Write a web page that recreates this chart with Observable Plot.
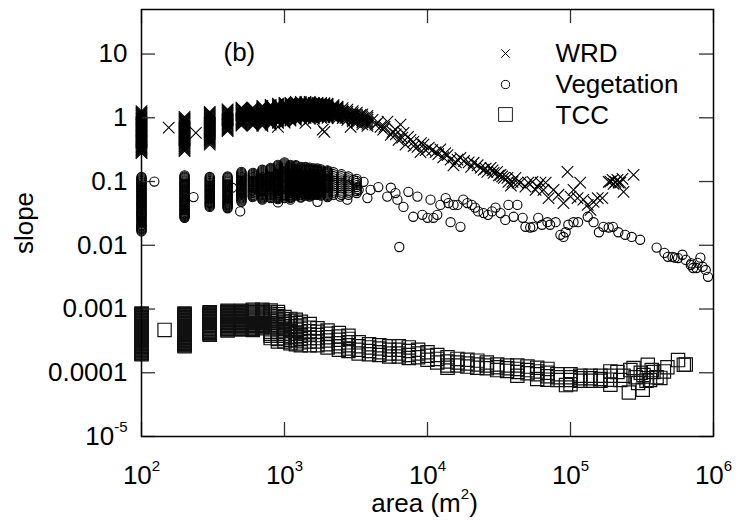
<!DOCTYPE html>
<html><head><meta charset="utf-8">
<script src="https://cdn.jsdelivr.net/npm/d3@7"></script>
<script src="https://cdn.jsdelivr.net/npm/@observablehq/plot@0.6"></script>
<style>body{margin:0;background:#fff}#chart{width:737px;height:522px}</style>
</head><body><div id="chart"></div>
<script>
// ---------- tick values and labels ----------
const xTicks = [1e2, 1e3, 1e4, 1e5, 1e6];
const xTickLabels = ["10^2", "10^3", "10^4", "10^5", "10^6"];
const yTicks = [10, 1, 0.1, 0.01, 0.001, 0.0001, 1e-5];
const yTickLabels = ["10", "1", "0.1", "0.01", "0.001", "0.0001", "10^-5"];
const xLabel = "area (m^2)";
const yLabel = "slope";
const panelLabel = "(b)";
const legendLabels = ["WRD", "Vegetation", "TCC"];

// ---------- WRD (x markers) ----------
const wrdColArea = [100,200,300,400,500,600,700,800,900,1000,1100,1200,1300,1400,1500,1600,1700,1800,1900,2000,2200,2350,2550,2750,3000,3200,3500,3800];
const wrdColSlope = [
  [1.27,1.22,1.18,1.14,1.1,1.06,1.02,0.98,0.95,0.92,0.885,0.85,0.82,0.79,0.765,0.74,0.71,0.685,0.66,0.64,0.615,0.59,0.57,0.55,0.53,0.51,0.495,0.475,0.46,0.445,0.43,0.415,0.40,0.385,0.37,0.355,0.345,0.33,0.32,0.31,0.30,0.29,0.28],
  [1.03,0.99,0.96,0.925,0.89,0.86,0.83,0.80,0.77,0.745,0.72,0.695,0.67,0.645,0.62,0.60,0.58,0.56,0.54,0.52,0.50,0.48,0.465,0.45,0.43,0.415,0.40,0.39,0.375,0.36,0.35,0.335,0.325,0.31,0.30],
  [1.24,1.19,1.15,1.11,1.07,1.03,1.0,0.965,0.93,0.9,0.865,0.83,0.80,0.77,0.745,0.72,0.695,0.67,0.645,0.62,0.60,0.58,0.56,0.54,0.52,0.50,0.485,0.465,0.45,0.435,0.42,0.40,0.38],
  [1.36,1.31,1.27,1.22,1.18,1.14,1.1,1.06,1.02,0.98,0.95,0.92,0.885,0.85,0.82,0.79,0.765,0.74,0.71,0.685,0.66,0.64,0.62],
  [1.44,1.39,1.34,1.29,1.25,1.2,1.16,1.12,1.08,1.04,1.0,0.965,0.935,0.9,0.87,0.84,0.81,0.78,0.755],
  [1.44,1.39,1.34,1.29,1.25,1.2,1.16,1.12,1.08,1.04,1.0,0.965,0.935,0.9,0.87,0.84,0.81,0.78,0.755],
  [1.54,1.48,1.43,1.38,1.33,1.28,1.24,1.19,1.15,1.11,1.07,1.03,1.0,0.965,0.93,0.9,0.865,0.835,0.805,0.775,0.75],
  [1.6,1.54,1.49,1.44,1.39,1.34,1.29,1.25,1.2,1.16,1.12,1.08,1.04,1.0,0.97,0.935,0.9,0.87,0.84,0.81,0.78],
  [1.66,1.6,1.55,1.49,1.44,1.39,1.34,1.29,1.25,1.2,1.16,1.12,1.08,1.04,1.0,0.965,0.93,0.9,0.865,0.835,0.72],
  [1.72,1.66,1.6,1.55,1.49,1.44,1.39,1.34,1.29,1.25,1.2,1.16,1.12,1.08,1.04,1.0,0.97,0.935,0.9,0.87,0.84],
  [1.72,1.66,1.6,1.55,1.49,1.44,1.39,1.34,1.29,1.25,1.2,1.16,1.12,1.08,1.04,1.0,0.97,0.935,0.9],
  [1.78,1.72,1.66,1.6,1.54,1.49,1.43,1.38,1.33,1.29,1.24,1.2,1.15,1.11,1.07,1.04,1.0,0.965,0.93],
  [1.78,1.72,1.66,1.6,1.54,1.49,1.43,1.38,1.33,1.29,1.24,1.2,1.15,1.11,1.07,1.04,1.0],
  [1.78,1.72,1.66,1.6,1.54,1.49,1.43,1.38,1.33,1.29,1.24,1.2,1.15,1.11,1.07,1.04,1.0,0.83],
  [1.78,1.72,1.66,1.6,1.54,1.49,1.43,1.38,1.33,1.29,1.24,1.2,1.15,1.11,1.07,1.04,1.0,0.965],
  [1.72,1.66,1.6,1.55,1.49,1.44,1.39,1.34,1.29,1.25,1.2,1.16,1.12,1.08,1.04,1.0,0.97],
  [1.72,1.66,1.6,1.55,1.49,1.44,1.39,1.34,1.29,1.25,1.2,1.16,1.12,1.08,1.04],
  [1.72,1.66,1.6,1.55,1.49,1.44,1.39,1.34,1.29,1.25,1.2,1.16,1.12,1.08,1.04,1.0],
  [1.69,1.63,1.57,1.52,1.46,1.41,1.36,1.31,1.27,1.22,1.18,1.14,1.1,1.06,1.02,0.6],
  [1.66,1.6,1.55,1.49,1.44,1.39,1.34,1.29,1.25,1.2,1.16,1.12,1.08,1.04,1.0],
  [1.58,1.52,1.47,1.42,1.37,1.32,1.27,1.23,1.18,1.14,1.1,1.06,1.02],
  [1.49,1.44,1.39,1.34,1.29,1.25,1.2,1.16,1.12,1.08,1.04,0.98],
  [1.42,1.32,1.23,1.14,1.06,0.99],
  [1.34,1.25,1.16,1.08,1.0,0.93],
  [1.27,1.18,1.1,1.02,0.95,0.88],
  [1.2,1.12,1.04,0.97,0.9,0.84],
  [1.13,1.05,0.98,0.91,0.85,0.79],
  [1.07,1.0,0.93,0.865,0.8,0.75]
];
const wrdPoints = [
  [155,0.70],[240,0.58],[1850,0.65],[2100,1.34],[2270,1.11],[2540,1.24],[2670,1.0],[2900,0.72],[2990,1.07],[3000,0.93],
  [3140,0.87],[3400,1.11],[3570,1.0],[3700,0.87],[4130,0.93],[4320,0.78],[4500,0.85],[4690,0.72],[4900,0.65],[5000,0.72],
  [5250,0.87],[5540,0.54],[5690,0.60],[5970,0.65],[6000,0.55],[6270,0.45],[6470,0.78],[6660,0.49],[6800,0.58],[7020,0.38],
  [7300,0.50],[7600,0.45],[7950,0.42],[8000,0.36],[8510,0.35],[8930,0.29],[9000,0.40],[9370,0.38],[9700,0.31],[10200,0.34],
  [10800,0.31],[11400,0.29],[11900,0.27],[12300,0.32],[12900,0.24],[13300,0.28],[13800,0.26],[14500,0.22],[15200,0.18],[15800,0.20],
  [16200,0.22],[17000,0.235],[18000,0.21],[19400,0.20],[20200,0.17],[21000,0.197],[22400,0.18],[23500,0.164],[24700,0.153],[25500,0.16],
  [26200,0.142],[27600,0.164],[28500,0.15],[29000,0.137],[30700,0.142],[31500,0.125],[32400,0.127],[33300,0.12],[34200,0.114],[36200,0.114],
  [36800,0.099],[38300,0.086],[39300,0.099],[41200,0.114],[42600,0.096],[44700,0.096],[48400,0.083],[50600,0.096],[54200,0.099],[57000,0.074],
  [58800,0.083],[61700,0.096],[64700,0.074],[67000,0.096],[70200,0.055],[76100,0.074],[82400,0.062],[89300,0.046],[95300,0.142],[100000,0.058],
  [105000,0.074],[112000,0.055],[117000,0.096],[123000,0.052],[132000,0.043],[138000,0.036],[145000,0.048],[155000,0.055],[167000,0.055],[185000,0.099],
  [190000,0.10],[197000,0.106],[200000,0.092],[206000,0.099],[213000,0.106],[217000,0.096],[223000,0.096],[231000,0.11],[235000,0.069],[276000,0.127]
];

// ---------- Vegetation (circles) ----------
const vegColArea = [100,200,300,400,500,600,700,800,900,1000,1100,1200,1300,1400,1500,1600,1700,1800,2000,2200,2500,2800,3200];
const vegColSlope = [
  [0.118,0.114,0.11,0.106,0.102,0.098,0.095,0.091,0.088,0.085,0.082,0.079,0.076,0.073,0.071,0.068,0.066,0.063,0.061,0.059,0.057,0.055,0.053,0.051,0.049,0.0475,0.046,0.0445,0.043,0.0415,0.04,0.0385,0.037,0.0355,0.034,0.033,0.032,0.031,0.03,0.029,0.028,0.027,0.026,0.025,0.024,0.023,0.022,0.021,0.0205,0.0198,0.019,0.0183,0.0177,0.0171,0.0165],
  [0.125,0.12,0.116,0.112,0.108,0.104,0.1,0.096,0.093,0.09,0.087,0.084,0.081,0.078,0.075,0.0725,0.07,0.0675,0.065,0.0625,0.06,0.058,0.056,0.054,0.052,0.05,0.048,0.0465,0.045,0.0435,0.042,0.0405,0.039,0.0375,0.036,0.035,0.0335,0.032,0.031,0.03,0.029,0.028,0.027],
  [0.118,0.114,0.11,0.106,0.102,0.098,0.095,0.091,0.088,0.085,0.082,0.079,0.076,0.073,0.071,0.068,0.066,0.063,0.061,0.059,0.057,0.055,0.053,0.051,0.049,0.0475,0.046,0.0445,0.043,0.0415,0.04],
  [0.12,0.116,0.112,0.108,0.104,0.1,0.097,0.093,0.09,0.087,0.084,0.081,0.078,0.075,0.072,0.0695,0.067,0.0645,0.062,0.06,0.058,0.056,0.054,0.052,0.05,0.0485,0.047,0.0455,0.044,0.0425,0.041,0.0395,0.038],
  [0.142,0.137,0.132,0.127,0.123,0.118,0.114,0.11,0.106,0.102,0.099,0.095,0.092,0.089,0.086,0.083,0.08,0.077,0.074,0.0715,0.069,0.0665,0.064,0.062,0.06,0.058,0.056,0.054,0.052,0.05,0.048],
  [0.137,0.132,0.127,0.123,0.118,0.114,0.11,0.106,0.102,0.098,0.095,0.091,0.088,0.085,0.082,0.079,0.076,0.073,0.071,0.068,0.066,0.063,0.061,0.059,0.057],
  [0.153,0.147,0.142,0.137,0.132,0.127,0.123,0.118,0.114,0.11,0.106,0.102,0.099,0.095,0.092,0.089,0.086,0.083,0.08,0.077,0.074,0.0715,0.069,0.0665,0.064,0.062,0.06,0.058,0.056,0.054,0.052],
  [0.164,0.158,0.153,0.147,0.142,0.137,0.132,0.127,0.123,0.118,0.114,0.11,0.106,0.102,0.099,0.095,0.092,0.089,0.086,0.083,0.08,0.077,0.074,0.0715,0.069,0.0665,0.064,0.062,0.06,0.0575,0.055],
  [0.183,0.176,0.17,0.164,0.158,0.153,0.147,0.142,0.137,0.132,0.127,0.123,0.118,0.114,0.11,0.106,0.102,0.099,0.095,0.092,0.088,0.085,0.082,0.079,0.076,0.073,0.071,0.068,0.066,0.063,0.061,0.059,0.057,0.055,0.053,0.047],
  [0.2,0.193,0.186,0.179,0.173,0.167,0.161,0.155,0.15,0.144,0.139,0.134,0.129,0.125,0.12,0.116,0.112,0.108,0.104,0.1,0.097,0.093,0.09,0.087,0.084,0.081,0.078,0.075,0.072,0.0695,0.067,0.0645,0.062,0.06,0.058,0.055],
  [0.183,0.176,0.17,0.164,0.158,0.153,0.147,0.142,0.137,0.132,0.127,0.123,0.118,0.114,0.11,0.106,0.102,0.099,0.095,0.092,0.088,0.085,0.082,0.079,0.076,0.073,0.071,0.068,0.066,0.063,0.061,0.059,0.057,0.055,0.052],
  [0.18,0.174,0.167,0.161,0.155,0.15,0.144,0.139,0.134,0.129,0.125,0.12,0.116,0.112,0.108,0.104,0.1,0.097,0.093,0.09,0.087,0.084,0.081,0.078,0.075,0.072,0.07,0.0675,0.065,0.0625,0.06],
  [0.17,0.164,0.158,0.153,0.147,0.142,0.137,0.132,0.127,0.123,0.118,0.114,0.11,0.106,0.102,0.098,0.095,0.091,0.088,0.085,0.082,0.079,0.076,0.073,0.071,0.068,0.066,0.063,0.061,0.058,0.056],
  [0.17,0.164,0.158,0.153,0.147,0.142,0.137,0.132,0.127,0.123,0.118,0.114,0.11,0.106,0.102,0.098,0.095,0.091,0.088,0.085,0.082,0.079,0.076,0.073,0.071,0.068,0.066,0.063,0.06],
  [0.165,0.159,0.153,0.148,0.142,0.137,0.132,0.127,0.123,0.118,0.114,0.11,0.106,0.102,0.099,0.095,0.092,0.089,0.086,0.083,0.08,0.077,0.074,0.0715,0.069,0.0665,0.064,0.062,0.06,0.058],
  [0.16,0.154,0.149,0.144,0.139,0.134,0.129,0.124,0.12,0.116,0.112,0.108,0.104,0.1,0.097,0.093,0.09,0.087,0.084,0.081,0.078,0.075,0.072,0.0695,0.067,0.0645,0.062],
  [0.16,0.154,0.149,0.144,0.139,0.134,0.129,0.124,0.12,0.116,0.112,0.108,0.104,0.1,0.097,0.093,0.09,0.087,0.084,0.081,0.078,0.075,0.072,0.0695,0.067,0.0645,0.062,0.048],
  [0.155,0.149,0.144,0.139,0.134,0.129,0.125,0.12,0.116,0.112,0.108,0.104,0.1,0.097,0.093,0.09,0.087,0.084,0.081,0.078,0.075,0.072,0.07,0.0675,0.065,0.0625,0.06],
  [0.15,0.145,0.14,0.135,0.13,0.125,0.121,0.116,0.112,0.108,0.104,0.1,0.097,0.093,0.09,0.087,0.084,0.081,0.078,0.075,0.072,0.0695,0.067,0.0645,0.062,0.0595,0.057],
  [0.14,0.13,0.121,0.112,0.104,0.097,0.09,0.084,0.078,0.072,0.067,0.062],
  [0.13,0.121,0.112,0.104,0.097,0.09,0.084,0.078,0.072,0.067,0.062],
  [0.12,0.112,0.104,0.097,0.09,0.084,0.078,0.072,0.067,0.062],
  [0.11,0.102,0.095,0.088,0.082,0.076,0.071,0.066]
];
const vegPoints = [
  [123,0.10],[231,0.057],[430,0.08],[490,0.034],[2450,0.058],[2750,0.052],[3040,0.106],[3300,0.074],[3570,0.099],[3800,0.055],
  [4000,0.074],[4530,0.082],[5230,0.058],[5540,0.080],[5970,0.066],[6160,0.052],[6350,0.0094],[6790,0.040],[7350,0.069],[7950,0.028],
  [8500,0.058],[9200,0.030],[10000,0.027],[10500,0.052],[11000,0.027],[11700,0.030],[12300,0.043],[13400,0.055],[14000,0.046],[14500,0.023],
  [15200,0.043],[16200,0.043],[17000,0.0195],[17800,0.052],[19000,0.046],[20400,0.043],[21500,0.039],[22600,0.034],[24700,0.032],[26500,0.030],
  [28300,0.034],[29900,0.039],[32400,0.032],[35000,0.025],[36800,0.043],[40000,0.028],[42500,0.043],[46300,0.027],[48400,0.0195],[52300,0.019],
  [54700,0.0195],[59500,0.027],[63200,0.021],[69000,0.023],[72000,0.021],[78700,0.023],[85000,0.0146],[89300,0.0135],[92500,0.016],[96600,0.021],
  [105000,0.023],[113000,0.023],[132000,0.028],[145000,0.023],[158000,0.016],[170000,0.0195],[185000,0.019],[198000,0.0195],[216000,0.016],[241000,0.0146],
  [268000,0.0135],[307000,0.0122],[400000,0.0092],[454000,0.0076],[480000,0.0066],[516000,0.0066],[536000,0.0064],[565000,0.0063],[606000,0.0071],[640000,0.0059],
  [693000,0.0049],[700000,0.0052],[720000,0.0044],[760000,0.0044],[775000,0.0053],[810000,0.0064],[840000,0.0046],[882000,0.0041],[915000,0.0032]
];

// ---------- TCC (squares) ----------
const tccColArea = [100,200,300,400,500,600,700,800,900,1000,1100,1200,1300,1500,1700,2000,2400,2800,3300,3900,4600,5400,6300,7400,8600,
  10000,11700,13800,16200,19000,22300,26000,30700,36000,42500,50000,58500,69000,81000,100000,117000,138000,162000,190000];
const tccColSlope = [
  [8.5e-4,8.27e-4,8.05e-4,7.83e-4,7.62e-4,7.42e-4,7.22e-4,7.03e-4,6.84e-4,6.65e-4,6.47e-4,6.3e-4,6.13e-4,5.96e-4,5.8e-4,5.65e-4,5.5e-4,5.35e-4,5.2e-4,5.06e-4,4.93e-4,4.8e-4,4.67e-4,4.54e-4,4.42e-4,4.3e-4,4.18e-4,4.07e-4,3.96e-4,3.85e-4,3.75e-4,3.65e-4,3.55e-4,3.45e-4,3.36e-4,3.27e-4,3.18e-4,3.09e-4,3.01e-4,2.93e-4,2.85e-4,2.77e-4,2.7e-4,2.63e-4,2.56e-4,2.49e-4,2.42e-4,2.35e-4,2.29e-4,2.23e-4,2.17e-4,2.11e-4,2.06e-4,2.0e-4,1.95e-4],
  [8.5e-4,8.27e-4,8.05e-4,7.83e-4,7.62e-4,7.42e-4,7.22e-4,7.03e-4,6.84e-4,6.65e-4,6.47e-4,6.3e-4,6.13e-4,5.96e-4,5.8e-4,5.65e-4,5.5e-4,5.35e-4,5.2e-4,5.06e-4,4.93e-4,4.8e-4,4.67e-4,4.54e-4,4.42e-4,4.3e-4,4.18e-4,4.07e-4,3.96e-4,3.85e-4,3.75e-4,3.65e-4,3.55e-4,3.45e-4,3.36e-4,3.27e-4,3.18e-4,3.09e-4,3.01e-4,2.93e-4,2.85e-4,2.77e-4,2.7e-4,2.6e-4],
  [8.9e-4,8.66e-4,8.43e-4,8.2e-4,7.98e-4,7.77e-4,7.56e-4,7.36e-4,7.16e-4,6.97e-4,6.78e-4,6.6e-4,6.42e-4,6.25e-4,6.08e-4,5.91e-4,5.75e-4,5.6e-4,5.45e-4,5.3e-4,5.16e-4,5.02e-4,4.88e-4,4.75e-4,4.62e-4,4.5e-4,4.38e-4,4.26e-4,4.15e-4,4.04e-4,3.93e-4],
  [9.4e-4,9.15e-4,8.9e-4,8.66e-4,8.43e-4,8.2e-4,7.98e-4,7.77e-4,7.56e-4,7.36e-4,7.16e-4,6.97e-4,6.78e-4,6.6e-4,6.42e-4,6.25e-4,6.08e-4,5.91e-4,5.75e-4,5.6e-4,5.45e-4,5.3e-4,5.16e-4,5.02e-4,4.88e-4,4.75e-4,4.62e-4],
  [9.4e-4,9.15e-4,8.9e-4,8.66e-4,8.43e-4,8.2e-4,7.98e-4,7.77e-4,7.56e-4,7.36e-4,7.16e-4,6.97e-4,6.78e-4,6.6e-4,6.42e-4,6.25e-4,6.08e-4,5.91e-4,5.75e-4,5.6e-4,5.45e-4,5.3e-4,5.16e-4,5.02e-4,4.88e-4,4.75e-4],
  [9.7e-4,9.35e-4,9.0e-4,8.7e-4,8.4e-4,8.1e-4,7.8e-4,7.55e-4,7.3e-4,7.05e-4,6.8e-4,6.55e-4,6.3e-4,6.05e-4,5.8e-4,5.6e-4,5.4e-4,5.2e-4,5.0e-4,4.85e-4,4.7e-4],
  [9.7e-4,9.35e-4,9.0e-4,8.7e-4,8.4e-4,8.1e-4,7.8e-4,7.55e-4,7.3e-4,7.05e-4,6.8e-4,6.55e-4,6.3e-4,6.05e-4,5.8e-4,5.6e-4,5.4e-4,5.2e-4,5.0e-4],
  [9.5e-4,8.8e-4,8.2e-4,7.6e-4,7.0e-4,6.5e-4,6.0e-4,5.6e-4,5.2e-4,4.8e-4,4.4e-4,4.1e-4,3.8e-4,3.5e-4],
  [9.0e-4,8.3e-4,7.7e-4,7.1e-4,6.6e-4,6.1e-4,5.6e-4,5.2e-4,4.8e-4,4.4e-4,4.1e-4,3.8e-4,3.4e-4,3.1e-4],
  [7.5e-4,6.9e-4,6.3e-4,5.8e-4,5.3e-4,4.9e-4,4.5e-4,4.1e-4,3.8e-4,3.5e-4,3.1e-4],
  [7.0e-4,6.4e-4,5.9e-4,5.4e-4,4.9e-4,4.5e-4,4.1e-4,3.7e-4,3.3e-4,2.9e-4],
  [6.8e-4,6.0e-4,5.3e-4,4.7e-4,4.1e-4,3.6e-4,3.2e-4,2.8e-4],
  [6.3e-4,5.5e-4,4.9e-4,4.3e-4,3.8e-4,3.4e-4,3.0e-4,2.7e-4],
  [5.8e-4,5.1e-4,4.5e-4,4.0e-4,3.5e-4,3.1e-4,2.7e-4],
  [5.0e-4,4.4e-4,3.9e-4,3.5e-4,3.1e-4,2.7e-4],
  [4.6e-4,4.1e-4,3.6e-4,3.2e-4,2.8e-4,2.5e-4],
  [4.2e-4,3.7e-4,3.3e-4,2.9e-4,2.6e-4,2.3e-4],
  [3.8e-4,3.4e-4,3.0e-4,2.7e-4,2.4e-4,2.2e-4],
  [3.0e-4,2.6e-4,2.3e-4,2.0e-4],
  [2.8e-4,2.5e-4,2.2e-4,1.95e-4],
  [2.7e-4,2.4e-4,2.1e-4,1.9e-4],
  [2.6e-4,2.3e-4,2.0e-4,1.8e-4],
  [2.6e-4,2.3e-4,2.0e-4,1.8e-4],
  [2.5e-4,2.2e-4,1.9e-4,1.7e-4],
  [2.3e-4,2.0e-4,1.75e-4],
  [2.1e-4,1.85e-4,1.6e-4],
  [1.9e-4,1.65e-4,1.45e-4],
  [1.75e-4,1.5e-4,1.3e-4,1.2e-4],
  [1.65e-4,1.45e-4,1.3e-4],
  [1.6e-4,1.4e-4,1.25e-4],
  [1.55e-4,1.35e-4,1.2e-4],
  [1.45e-4,1.3e-4,1.18e-4],
  [1.35e-4,1.22e-4,1.1e-4],
  [1.3e-4,1.18e-4,1.07e-4],
  [1.3e-4,1.15e-4,1.03e-4,9.0e-5],
  [1.25e-4,1.1e-4,9.8e-5],
  [1.2e-4,1.05e-4,9.5e-5,8.0e-5],
  [1.15e-4,1.0e-4,8.8e-5,7.8e-5],
  [9.5e-5,8.5e-5,7.7e-5],
  [9.5e-5,8.5e-5,7.7e-5,6.6e-5],
  [9.0e-5,8.2e-5,7.5e-5],
  [9.0e-5,8.2e-5,7.5e-5],
  [9.0e-5,8.0e-5,7.5e-5],
  [1.05e-4,9.0e-5,7.8e-5,6.5e-5]
];
const tccPoints = [
  [145,4.7e-4],[93000,6.4e-5],[213000,1.03e-4],[223000,7.7e-5],[235000,9.0e-5],[256000,4.9e-5],[262000,1.1e-4],[276000,1.19e-4],
  [285000,8.5e-5],[297000,6.9e-5],[310000,1.0e-4],[320000,5.4e-5],[324000,9.2e-5],[340000,7.5e-5],[347000,1.33e-4],[360000,7.7e-5],
  [370000,1.1e-4],[380000,1.03e-4],[400000,8.5e-5],[425000,8.3e-5],[450000,1.05e-4],[476000,1.22e-4],[565000,1.58e-4],[620000,1.33e-4],[640000,1.35e-4]
];

// ---------- build tables ----------
function table(colArea, colSlope, points) {
  const out = [];
  colArea.forEach((a, i) => colSlope[i].forEach(s => out.push({area: a, slope: s})));
  points.forEach(([a, s]) => out.push({area: a, slope: s}));
  return out;
}
const wrd = table(wrdColArea, wrdColSlope, wrdPoints);
const veg = table(vegColArea, vegColSlope, vegPoints);
const tcc = table(tccColArea, tccColSlope, tccPoints);

// ---------- layout ----------
const W = 737, H = 522, mL = 141, mR = 24, mT = 9, mB = 86;
const frameW = W - mL - mR, frameH = H - mT - mB, TICK = 14;
const FONT = "'Liberation Sans', Arial, Helvetica, sans-serif";
const FS = 26;
const fmtX = d => xTickLabels[xTicks.indexOf(d)];
const fmtY = d => yTickLabels[yTicks.indexOf(d)];
const mid = {lineAnchor: "middle", fontSize: FS};

const chart = Plot.plot({
  width: W, height: H,
  marginLeft: mL, marginRight: mR, marginTop: mT, marginBottom: mB,
  style: {fontFamily: FONT, fontSize: FS + "px", background: "#fff", color: "#000"},
  x: {type: "log", domain: [1e2, 1e6], axis: null},
  y: {type: "log", domain: [1e-5, 50], axis: null},
  marks: [
    Plot.dot(tcc, {x: "area", y: "slope", symbol: "square", r: 7.5, stroke: "#111", strokeWidth: 1.2, fill: "none"}),
    Plot.dot(veg, {x: "area", y: "slope", symbol: "circle", r: 4.6, stroke: "#000", strokeWidth: 1.1, fill: "none"}),
    Plot.dot(wrd, {x: "area", y: "slope", symbol: "times", r: 5.3, stroke: "#000", strokeWidth: 1.1}),
    Plot.ruleX(xTicks, {x: d => d, insetTop: frameH - TICK, stroke: "#333", strokeWidth: 1.3}),
    Plot.ruleX(xTicks, {x: d => d, insetBottom: frameH - TICK, stroke: "#333", strokeWidth: 1.3}),
    Plot.ruleY(yTicks, {y: d => d, insetRight: frameW - TICK, stroke: "#333", strokeWidth: 1.3}),
    Plot.ruleY(yTicks, {y: d => d, insetLeft: frameW - TICK, stroke: "#333", strokeWidth: 1.3}),
    Plot.frame({stroke: "#000", strokeWidth: 1.5}),
    Plot.axisX({ticks: xTicks, tickFormat: fmtX, tickSize: 0, tickPadding: 29, label: null, fontSize: FS}),
    Plot.axisY({ticks: yTicks, tickFormat: fmtY, tickSize: 0, tickPadding: 14, label: null, fontSize: FS}),
    Plot.text([xLabel], {...mid, text: d => d, frameAnchor: "bottom", textAnchor: "middle", dx: -3, dy: 66.7}),
    Plot.text([yLabel], {...mid, text: d => d, frameAnchor: "left", textAnchor: "middle", dx: -117, rotate: -90}),
    Plot.text([panelLabel], {...mid, text: d => d, frameAnchor: "top-left", textAnchor: "start", dx: 82, dy: 42.7}),
    Plot.dot([0], {frameAnchor: "top-left", dx: 364, dy: 44, symbol: "times", r: 3.9, stroke: "#000", strokeWidth: 1}),
    Plot.dot([0], {frameAnchor: "top-left", dx: 364, dy: 75, symbol: "circle", r: 4.1, stroke: "#000", strokeWidth: 1, fill: "none"}),
    Plot.dot([0], {frameAnchor: "top-left", dx: 364, dy: 105, symbol: "square", r: 7.8, stroke: "#222", strokeWidth: 1, fill: "none"}),
    Plot.text([legendLabels[0]], {...mid, text: d => d, frameAnchor: "top-left", textAnchor: "start", dx: 414, dy: 44}),
    Plot.text([legendLabels[1]], {...mid, text: d => d, frameAnchor: "top-left", textAnchor: "start", dx: 414, dy: 75}),
    Plot.text([legendLabels[2]], {...mid, text: d => d, frameAnchor: "top-left", textAnchor: "start", dx: 414, dy: 106})
  ]
});

// superscripts: "base^exp rest"
const NS = "http://www.w3.org/2000/svg";
chart.querySelectorAll("text").forEach(el => {
  const m = /^(.*)\^(-?\d+)(.*)$/.exec(el.textContent);
  if (!m) return;
  el.textContent = m[1];
  const sup = document.createElementNS(NS, "tspan");
  sup.setAttribute("font-size", "15");
  sup.setAttribute("dy", "-13");
  sup.textContent = m[2];
  el.appendChild(sup);
  if (m[3]) {
    const rest = document.createElementNS(NS, "tspan");
    rest.setAttribute("font-size", String(FS));
    rest.setAttribute("dy", "13");
    rest.textContent = m[3];
    el.appendChild(rest);
  }
});
document.getElementById("chart").appendChild(chart);
</script>
</body></html>
